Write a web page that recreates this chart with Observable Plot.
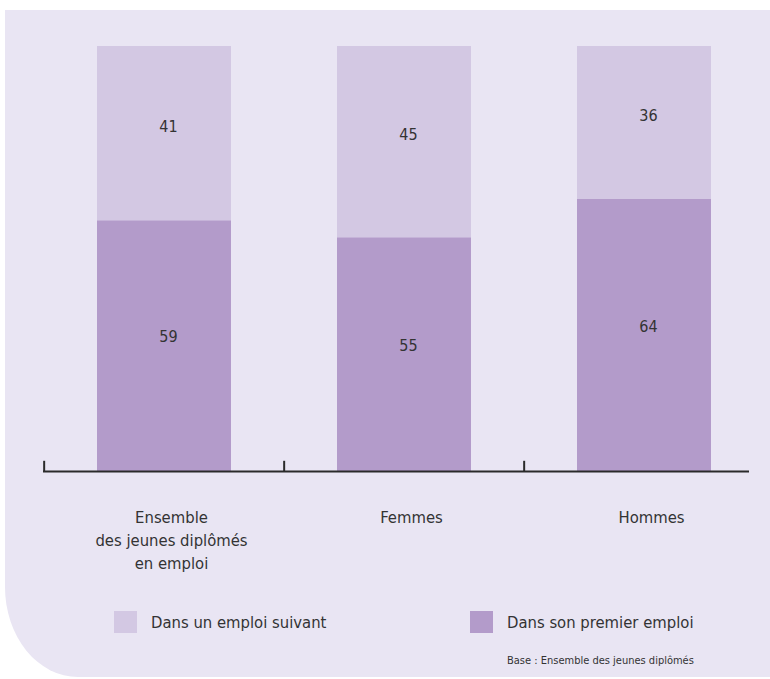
<!DOCTYPE html>
<html>
<head>
<meta charset="utf-8">
<script src="https://cdn.jsdelivr.net/npm/d3@7"></script>
<script src="https://cdn.jsdelivr.net/npm/@observablehq/plot@0.6"></script>
<style>
  html, body { margin: 0; padding: 0; background: #ffffff; }
  body { width: 770px; height: 679px; position: relative; overflow: hidden;
         font-family: "DejaVu Sans Condensed", "Liberation Sans Narrow", "DejaVu Sans", sans-serif; }
  #panel { position: absolute; left: 5px; top: 10px; width: 765px; height: 667px;
           background: #e9e5f3; border-bottom-left-radius: 73px 90px; }
  #chart { position: absolute; left: 0; top: 0; }
  .legend-item { position: absolute; display: flex; align-items: center; font-size: 16.5px; color: #333; }
  .swatch { width: 23px; height: 22px; margin-right: 14px; }
  #caption { position: absolute; left: 507px; top: 654px; font-size: 11px; color: #333; }
</style>
</head>
<body>
<div id="panel"></div>
<div id="chart"></div>
<div class="legend-item" style="left:114px; top:611px;"><div class="swatch" style="background:#d3c8e3"></div><span>Dans un emploi suivant</span></div>
<div class="legend-item" style="left:470px; top:611px;"><div class="swatch" style="background:#b39bca"></div><span>Dans son premier emploi</span></div>
<div id="caption">Base : Ensemble des jeunes diplômés</div>
<script>
const groups = ["Ensemble", "Femmes", "Hommes"];
const groupLabels = ["Ensemble\ndes jeunes diplômés\nen emploi", "Femmes", "Hommes"];
const series = ["Dans son premier emploi", "Dans un emploi suivant"];
const premierEmploi = [59, 55, 64];
const emploiSuivant = [41, 45, 36];
const colors = ["#b39bca", "#d3c8e3"];

const rows = [];
groups.forEach((g, i) => {
  const a = premierEmploi[i], b = emploiSuivant[i];
  rows.push({group: g, series: series[0], value: a, y1: 0, y2: a, mid: a / 2});
  rows.push({group: g, series: series[1], value: b, y1: a, y2: a + b, mid: a + b / 2});
});

const x0 = 43, x1 = 765;
const step = (x1 - x0) / groups.length;

const chart = Plot.plot({
  width: 770,
  height: 600,
  marginTop: 46,
  marginBottom: 129,
  marginLeft: 43,
  marginRight: 21,
  x: {domain: groups, range: [x0, x1], paddingInner: 0.44, paddingOuter: 0.22, axis: null},
  y: {domain: [0, 100], axis: null},
  color: {domain: series, range: colors},
  style: {background: "transparent", fontFamily: "'DejaVu Sans Condensed', 'Liberation Sans Narrow', sans-serif", color: "#333"},
  marks: [
    Plot.barY(rows, {x: "group", y1: "y1", y2: "y2", fill: "series"}),
    Plot.text(rows.filter(d => d.series === series[0]), {x: "group", y: "mid", text: d => String(d.value), dx: 4, dy: -9, fontSize: 16, fill: "#333"}),
    Plot.text(rows.filter(d => d.series === series[1]), {x: "group", y: "mid", text: d => String(d.value), dx: 4, dy: -7, fontSize: 16, fill: "#333"}),
    Plot.ruleY([0], {stroke: "#2a2a2a", strokeWidth: 2}),
    Plot.ruleX(groups, {x: d => d, y1: 0, y2: 2.4, dx: -step / 2, stroke: "#2a2a2a", strokeWidth: 2}),
    Plot.text(groups, {x: d => d, y: 0, text: (d, i) => groupLabels[i], lineAnchor: "top", dx: 7, dy: 35, fontSize: 16.5, lineHeight: 1.4, fill: "#333"})
  ]
});
document.getElementById("chart").appendChild(chart);
</script>
</body>
</html>
